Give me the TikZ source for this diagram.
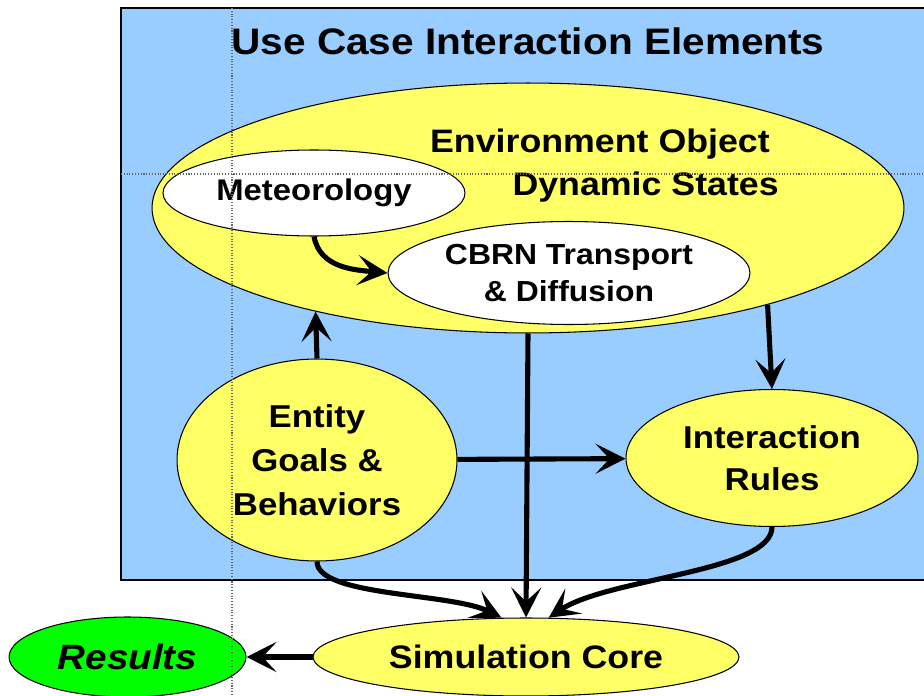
\documentclass[tikz,border=0pt]{standalone}
\usepackage{fontspec}
\setmainfont{Liberation Sans}[FakeStretch=1.1]
\usetikzlibrary{positioning, arrows.meta, shapes.geometric}

\definecolor{paneblue}{HTML}{99CCFF}
\definecolor{ovalyellow}{HTML}{FFFF66}
\definecolor{resgreen}{HTML}{00FF00}

\begin{document}
\begin{tikzpicture}[
  x=0.02cm, y=-0.02cm,
  pane/.style={fill=paneblue, draw=black, line width=0.9pt},
  oval/.style={ellipse, draw=black, line width=0.6pt, fill=ovalyellow, inner sep=0pt,
    align=center, font=\fontsize{18}{25}\selectfont\bfseries},
  whiteoval/.style={oval, fill=white, font=\fontsize{16.5}{21.5}\selectfont\bfseries},
  flow/.style={-{Stealth[length=6mm, width=6mm, inset=2.8mm]}, line width=2.9pt, draw=black},
  guide/.style={densely dotted, draw=black!60, line width=0.6pt}
]
\useasboundingbox (0,0) rectangle (924,696);

\fill[paneblue] (121,8) rectangle (930,580);
\draw[pane, fill=none] (930,8) -- (121,8) -- (121,580) -- (930,580);
\node[font=\fontsize{21}{25}\selectfont\bfseries] (title) at (528,41) {Use Case Interaction Elements};

\node[oval, minimum width=15.04cm, minimum height=5cm] (env) at (528,208) {};
\node[font=\fontsize{18.5}{24.5}\selectfont\bfseries, align=right, anchor=east] (envtext) at (776,166)
  {Environment Object\\Dynamic States\kern-0.18cm};

\node[whiteoval, minimum width=6.04cm, minimum height=1.72cm,
  font=\fontsize{17}{21}\selectfont\bfseries] (met) at (314,193) {Meteorology};
\node[whiteoval, minimum width=7.24cm, minimum height=2.06cm] (cbrn) at (569,273)
  {CBRN Transport\\\& Diffusion};

\node[oval, minimum width=5.6cm, minimum height=4.04cm] (ent) at (317,460)
  {Entity\\Goals \&\\Behaviors};
\node[oval, minimum width=5.84cm, minimum height=2.74cm,
  font=\fontsize{18}{23.8}\selectfont\bfseries] (rules) at (772,458) {Interaction\\Rules};

\node[oval, minimum width=8.52cm, minimum height=1.56cm,
  font=\fontsize{18.5}{22}\selectfont\bfseries] (core) at (526,657) {Simulation Core};
\node[oval, fill=resgreen, minimum width=4.74cm, minimum height=1.6cm,
  font=\fontsize{20}{24}\selectfont\bfseries\itshape, left=1.32cm of core] (res) {Results};

\draw[flow] (met.south) .. controls +(6,32) and +(-32,-3) .. (cbrn.west);
\draw[flow] (ent.north) -- (env.206);
\draw[flow] (env.south) -- (core.north);
\draw[flow] (env.338) -- (rules.north);
\draw[flow] (ent) -- (rules);
\draw[flow] (ent.south) .. controls +(0,35) and +(-50,-25) .. (core.122);
\draw[flow] (rules.south) .. controls +(0,45) and +(60,-40) .. (core.60);
\draw[flow] (core) -- (res);

\draw[guide] (232,8) -- (232,696);
\draw[guide] (121,174) -- (924,174);

\end{tikzpicture}
\end{document}
